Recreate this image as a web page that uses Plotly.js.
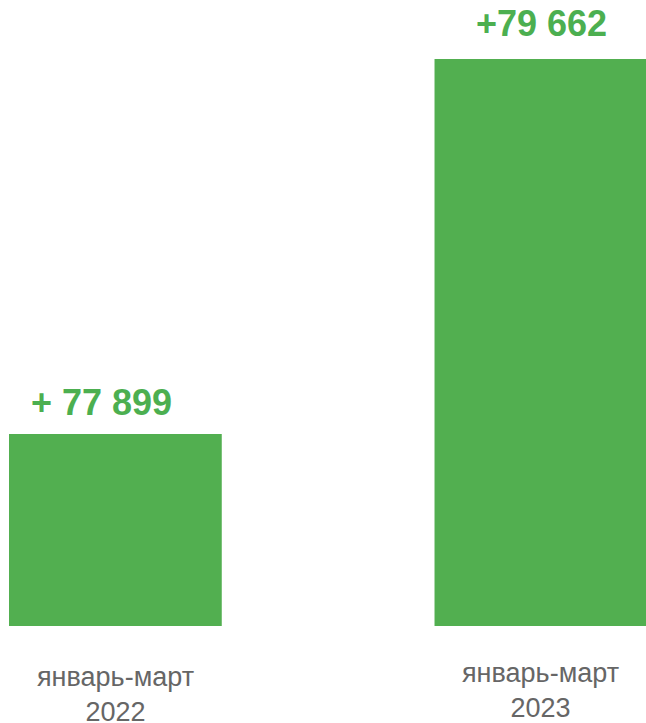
<!DOCTYPE html>
<html>
<head>
<meta charset="utf-8">
<script src="https://cdn.plot.ly/plotly-3.0.1.min.js"></script>
<style>html,body{margin:0;padding:0;background:#fff;}#chart{width:646px;height:723px;}</style>
</head>
<body>
<div id="chart"></div>
<script>
const categories = ["январь-март 2022", "январь-март 2023"];
const values = [77899, 79662];
const valueLabels = ["+ 77 899", "+79 662"];
const tickLines = [["январь-март", "2022"], ["январь-март", "2023"]];

const green = "#52AF50";
const labelGreen = "#4CAF50";
const gray = "#666666";

const trace = {
  type: "bar",
  x: [0, 1],
  y: values,
  width: 0.5,
  marker: {color: green},
  hoverinfo: "skip"
};

const valueX = [0, 1];
const valueXShift = [-14, 1];
const valueYShift = [9, 13];
const tickYShift = [-34, -30];

const annotations = [];
values.forEach((v, i) => {
  annotations.push({
    x: valueX[i], y: v, xref: "x", yref: "y",
    text: "<b>" + valueLabels[i] + "</b>",
    showarrow: false, yanchor: "bottom", xanchor: "center",
    xshift: valueXShift[i], yshift: valueYShift[i],
    font: {family: "Liberation Sans, Arial, sans-serif", size: 36, color: labelGreen}
  });
  annotations.push({
    x: valueX[i], y: 0, xref: "x", yref: "paper",
    text: tickLines[i].join("<br>"),
    showarrow: false, yanchor: "top", xanchor: "center",
    yshift: tickYShift[i],
    font: {family: "Liberation Sans, Arial, sans-serif", size: 27, color: gray}
  });
});

const layout = {
  width: 646, height: 723,
  margin: {l: 9, r: 0, t: 0, b: 97, pad: 0},
  paper_bgcolor: "#fff", plot_bgcolor: "#fff",
  showlegend: false,
  xaxis: {range: [-0.25, 1.247], showgrid: false, zeroline: false, showticklabels: false, showline: false, ticks: ""},
  yaxis: {range: [76996, 79940], showgrid: false, zeroline: false, showticklabels: false, showline: false, ticks: ""},
  annotations: annotations
};

Plotly.newPlot("chart", [trace], layout, {displayModeBar: false, staticPlot: true});
</script>
</body>
</html>
